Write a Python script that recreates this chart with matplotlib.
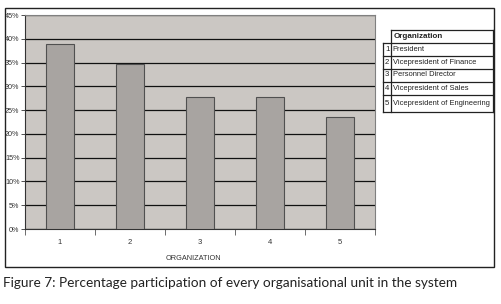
import matplotlib
matplotlib.use("Agg")
import matplotlib.pyplot as plt
from matplotlib.patches import Rectangle
from matplotlib.lines import Line2D
from matplotlib.ticker import FuncFormatter, MultipleLocator

categories = ["1", "2", "3", "4", "5"]
values = [38.9, 34.6, 27.7, 27.7, 23.5]
unit_names = ["President", "Vicepresident of Finance", "Personnel Director",
              "Vicepresident of Sales", "Vicepresident of Engineering"]
legend_title = "Organization"
xlabel = "ORGANIZATION"
caption = "Figure 7: Percentage participation of every organisational unit in the system"

W, H = 502, 304
fig = plt.figure(figsize=(W / 100, H / 100), dpi=100)
fig.patch.set_facecolor("white")

NARROW = ["Liberation Sans Narrow", "Liberation Sans", "DejaVu Sans"]

def fx(px):
    return px / W

def fy(py):
    return 1 - py / H

# outer chart frame
fig.add_artist(Rectangle((fx(5), fy(267)), fx(494) - fx(5), fy(8) - fy(267),
                         transform=fig.transFigure, fill=False,
                         edgecolor="#222222", lw=1.0))

ax = fig.add_axes([fx(25), fy(229), fx(375) - fx(25), fy(15) - fy(229)])
ax.set_facecolor("#cbc7c3")
x = list(range(len(categories)))
ax.bar(x, values, width=0.4, color="#a8a4a1", edgecolor="#505050", linewidth=0.8, zorder=3)
ax.set_xlim(-0.5, len(categories) - 0.5)
ax.set_ylim(0, 45)
ax.yaxis.set_major_locator(MultipleLocator(5))
ax.yaxis.set_major_formatter(FuncFormatter(lambda v, p: f"{v:.0f}%"))
ax.grid(axis="y", color="#111111", lw=0.9, zorder=1)
ax.set_axisbelow(True)
for s in ["top", "right"]:
    ax.spines[s].set_color("#808080")
    ax.spines[s].set_linewidth(0.8)
ax.spines["left"].set_color("#333333")
ax.spines["bottom"].set_color("#333333")
ax.spines["left"].set_linewidth(0.8)
ax.spines["bottom"].set_linewidth(0.8)

ax.set_xticks(x)
ax.set_xticklabels(categories, fontsize=5.5, family=NARROW, color="#333333")
ax.set_xticks([i - 0.5 for i in range(len(categories) + 1)], minor=True)
ax.tick_params(axis="x", which="major", length=0, pad=7)
ax.tick_params(axis="x", which="minor", length=4, width=0.6, color="#555555", direction="out")
ax.tick_params(axis="y", length=3, width=0.6, color="#333333", labelsize=5.2, pad=1,
               labelcolor="#333333")
for t in ax.get_yticklabels():
    t.set_family(NARROW)
ax.set_xlabel(xlabel, fontsize=5.3, family=NARROW, color="#333333")
ax.xaxis.set_label_coords((193 - 25) / 350, -(259 - 229) / 214)
ax.xaxis.label.set_va("center")

# legend table
tl, tnum, tr = 383, 391.5, 493
rows_y = [29.5, 43.3, 56, 68.5, 81.5, 95, 111.5]
lc = "#222222"
def hline(x0, x1, y):
    fig.add_artist(Line2D([fx(x0), fx(x1)], [fy(y), fy(y)], transform=fig.transFigure,
                          color=lc, lw=0.9))
def vline(xp, y0, y1):
    fig.add_artist(Line2D([fx(xp), fx(xp)], [fy(y0), fy(y1)], transform=fig.transFigure,
                          color=lc, lw=0.9))
hline(tnum, tr, rows_y[0])
for yy in rows_y[1:]:
    hline(tl, tr, yy)
vline(tl, rows_y[1], rows_y[-1])
vline(tnum, rows_y[0], rows_y[-1])
vline(tr, rows_y[0], rows_y[-1])
fig.text(fx(tnum + 2), fy((rows_y[0] + rows_y[1]) / 2), legend_title, fontsize=5.8,
         family=NARROW, weight="bold", va="center", ha="left", color="#222222")
for i, name in enumerate(unit_names):
    yc = fy((rows_y[i + 1] + rows_y[i + 2]) / 2)
    fig.text(fx((tl + tnum) / 2), yc, categories[i], fontsize=5.6, family=NARROW,
             va="center", ha="center", color="#222222")
    fig.text(fx(tnum + 1.2), yc, name, fontsize=5.4, family=NARROW,
             va="center", ha="left", color="#222222")

fig.text(fx(3), fy(283), caption, fontsize=9.8, family=["Lato", "DejaVu Sans"],
         va="center", ha="left", color="#222222")

fig.savefig("out.png", dpi=100)
